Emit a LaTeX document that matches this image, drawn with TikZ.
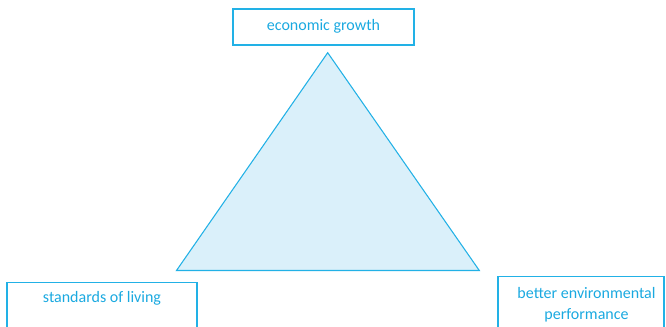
\documentclass[tikz,border=0pt]{standalone}
\usepackage{fontspec}
\setmainfont{Carlito}
\definecolor{cline}{HTML}{22B1E6}
\definecolor{ctext}{HTML}{1AA9E0}
\definecolor{cfill}{HTML}{DAF0FA}
\begin{document}
\begin{tikzpicture}[x=0.75pt,y=-0.75pt,
  box/.style={draw=cline,line width=0.9pt,rectangle,inner sep=0pt},
  txt/.style={text=ctext,font=\fontsize{12}{15.6}\selectfont,align=center,inner sep=0pt}]
\useasboundingbox (0,0) rectangle (666,327);
\clip (0,0) rectangle (666,327);
% top box
\node[box,minimum width=181*0.75pt,minimum height=36*0.75pt] (eg) at (323.5,27) {};
\node[txt] (egt) at (323.5,26) {economic growth};
% left box
\node[box,anchor=north,minimum width=190*0.75pt,minimum height=80*0.75pt] (sl) at (102,281.7) {};
\node[txt] (slt) at (102,298.5) {standards of living};
% right box
\node[box,anchor=north,minimum width=166*0.75pt,minimum height=80*0.75pt] (be) at (581,276) {};
\node[txt] (bet) at (586.5,304.5) {better environmental\\performance};
% triangle
\coordinate (apex) at (327.7,52.7);
\coordinate (bl) at (176.5,270.5);
\coordinate (br) at (479.3,270.5);
\draw[draw=cline,fill=cfill,line width=0.8pt,line join=miter] (apex) -- (bl) -- (br) -- cycle;
\end{tikzpicture}
\end{document}
